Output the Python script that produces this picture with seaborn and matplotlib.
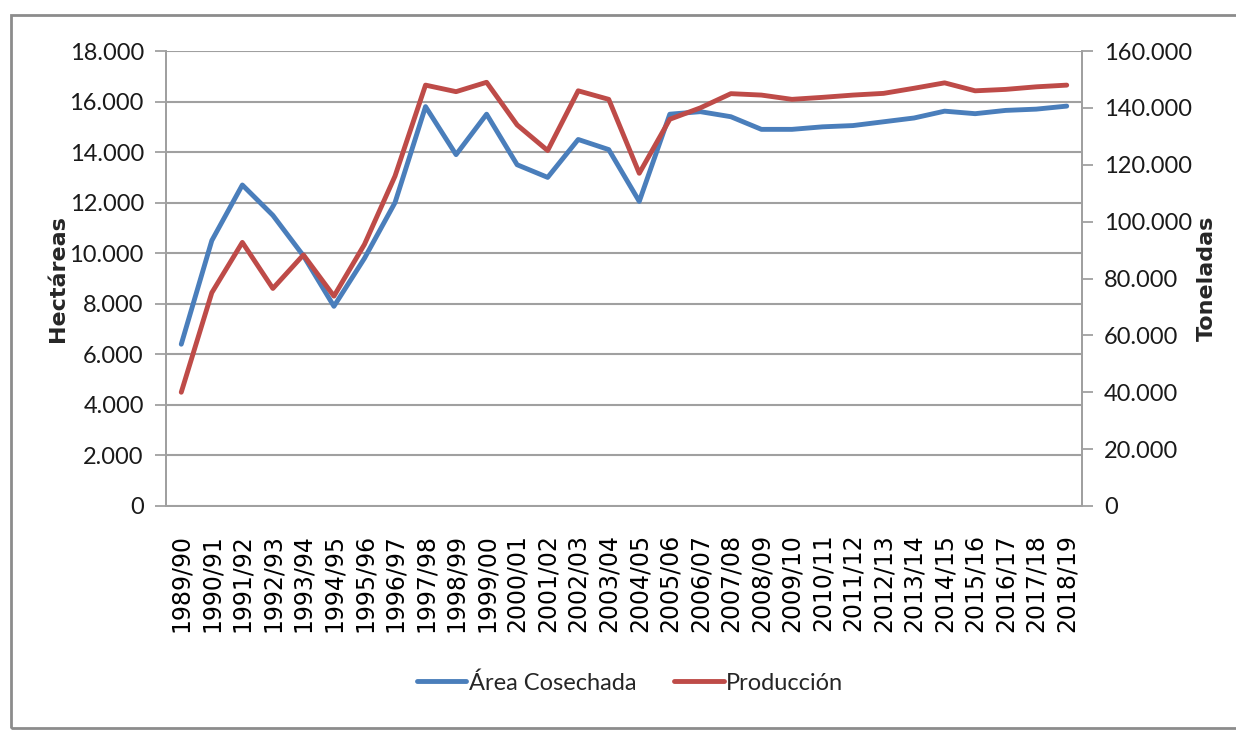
import numpy as np
import pandas as pd
import matplotlib
matplotlib.use("Agg")
import matplotlib.pyplot as plt
import matplotlib.ticker as mticker
from matplotlib.lines import Line2D
from matplotlib.patches import Rectangle
import seaborn as sns

# campañas
campanas = [
    "1989/90", "1990/91", "1991/92", "1992/93", "1993/94", "1994/95",
    "1995/96", "1996/97", "1997/98", "1998/99", "1999/00", "2000/01",
    "2001/02", "2002/03", "2003/04", "2004/05", "2005/06", "2006/07",
    "2007/08", "2008/09", "2009/10", "2010/11", "2011/12", "2012/13",
    "2013/14", "2014/15", "2015/16", "2016/17", "2017/18", "2018/19",
]

# hectareas cosechadas (eje izquierdo)
area = [
    6400, 10500, 12700, 11500, 9900, 7900, 9800, 12000, 15800, 13900,
    15500, 13500, 13000, 14500, 14100, 12050, 15500, 15600, 15400, 14900,
    14900, 15000, 15050, 15200, 15350, 15620, 15520, 15650, 15700, 15820,
]

# toneladas producidas (eje derecho)
produccion = [
    40000, 75000, 92700, 76500, 88300, 73800, 92000, 116000, 148000, 145700,
    149000, 134000, 125000, 146000, 143000, 117000, 136000, 140000, 145000, 144500,
    143000, 143700, 144500, 145100, 146900, 148800, 146000, 146500, 147400, 148000,
]

df = pd.DataFrame({"campana": campanas, "area": area, "produccion": produccion})

sns.set_style("white")
plt.rcParams["font.family"] = ["DejaVu Sans"]
narrow = "Lato"
wide = "DejaVu Sans"

blue = "#4a7ebb"
red = "#be4b48"
gray = "#a0a0a0"

fig = plt.figure(figsize=(12.36, 7.31), dpi=100)
ax = fig.add_axes([166 / 1236, 1 - 506 / 731, (1082 - 166) / 1236, (506 - 51) / 731])
ax2 = ax.twinx()

sns.lineplot(data=df, x="campana", y="area", ax=ax, color=blue, linewidth=3.5,
             sort=False)
sns.lineplot(data=df, x="campana", y="produccion", ax=ax2, color=red, linewidth=3.5,
             sort=False)

ax.set_xlim(-0.5, len(campanas) - 0.5)
ax.set_ylim(0, 18000)
ax2.set_ylim(0, 160000)
ax.set_yticks(np.arange(0, 18001, 2000))
ax2.set_yticks(np.arange(0, 160001, 20000))

fmt = mticker.FuncFormatter(lambda v, p: f"{int(v):,}".replace(",", "."))
ax.yaxis.set_major_formatter(fmt)
ax2.yaxis.set_major_formatter(fmt)

ax.yaxis.grid(True, color=gray, linewidth=1.5)
ax.set_axisbelow(True)

for a in (ax, ax2):
    for s in a.spines.values():
        s.set_color(gray)
        s.set_linewidth(1.3)
    a.spines["top"].set_visible(False)
    a.tick_params(axis="y", length=8, width=1.3, color=gray, pad=8)
    for lab in a.get_yticklabels():
        lab.set_family(narrow)
        lab.set_fontsize(17)
        lab.set_color("#1a1a1a")

# ticks between categories
ax.set_xticks(range(len(campanas)))
ax.set_xticklabels(campanas, rotation=90, fontsize=17, color="black", family=wide)
ax.set_xticks(np.arange(-0.5, len(campanas), 1.0), minor=True)
ax.tick_params(axis="x", which="major", length=0, pad=20)
ax.tick_params(axis="x", which="minor", length=8, width=1.3, color=gray)
ax2.tick_params(axis="x", which="both", length=0)

ax.set_xlabel("")
ax.set_ylabel("Hectáreas", fontsize=16, fontweight="bold", family=wide, labelpad=1)
ax2.set_ylabel("Toneladas", fontsize=16, fontweight="bold", family=wide, labelpad=3)

handles = [
    Line2D([], [], color=blue, linewidth=3.5),
    Line2D([], [], color=red, linewidth=3.5),
]
fig.legend(handles, ["Área Cosechada", "Producción"], loc="center",
           bbox_to_anchor=(630 / 1236, 1 - 683 / 731), ncol=2, frameon=False,
           prop={"family": narrow, "size": 17}, handlelength=2.1,
           handletextpad=0.1, columnspacing=1.6)

fig.patches.append(Rectangle((11 / 1236, 1 - 728 / 731), 1.2, (728 - 15) / 731,
                             transform=fig.transFigure, fill=False,
                             edgecolor="#8c8c8c", linewidth=2))

fig.savefig("out.png", dpi=100, facecolor="white")
